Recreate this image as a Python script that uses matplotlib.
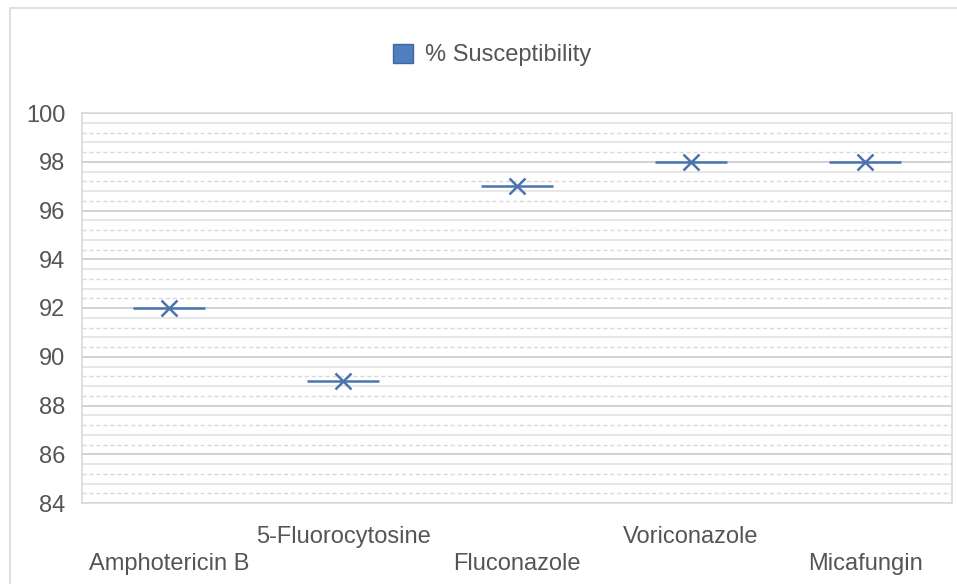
import matplotlib
matplotlib.use("Agg")
import matplotlib.pyplot as plt
import matplotlib.transforms as mtransforms
from matplotlib.patches import Patch, Rectangle

# data
drugs = ["Amphotericin B", "5-Fluorocytosine", "Fluconazole", "Voriconazole", "Micafungin"]
susceptibility = [92, 89, 97, 98, 98]
y_ticks = [84, 86, 88, 90, 92, 94, 96, 98, 100]
series_name = "% Susceptibility"

plt.rcParams['font.family'] = ['Liberation Sans', 'DejaVu Sans']
text_gray = '#555555'
blue = '#4a74ad'

fig = plt.figure(figsize=(9.57, 5.84), dpi=100)
ax = fig.add_axes([82 / 957, 1 - 503 / 584, 870 / 957, 390 / 584])

# outer chart border
fig.patches.append(Rectangle((10 / 957, -0.1), 1.2, 1 - 8 / 584 + 0.1,
                             transform=fig.transFigure, fill=False,
                             edgecolor='#d9d9d9', lw=1.2))

# gridlines: major every 2, finer ones every 0.4 (solid / dashed alternating)
lo, hi = y_ticks[0], y_ticks[-1]
n = int(round((hi - lo) / 0.4))
for i in range(n + 1):
    y = lo + 0.4 * i
    j = (n - i) % 5  # position below the major line above
    if j == 0:
        ax.axhline(y, color='#cfcfcf', lw=1.3, zorder=1)
    elif j % 2 == 1:
        ax.axhline(y, color='#e3e3e3', lw=1.2, zorder=1)
    else:
        ax.axhline(y, color='#d9d9d9', lw=1.0, ls=(0, (3, 2)), zorder=1)

x = list(range(len(drugs)))
ax.plot(x, susceptibility, ls='none', marker='_', markersize=52,
        mew=1.8, color=blue, zorder=3)
ax.plot(x, susceptibility, ls='none', marker='x', markersize=12,
        mew=1.8, color=blue, zorder=3)

ax.set_xlim(-0.5, len(drugs) - 0.5)
ax.set_ylim(lo, hi)
ax.set_yticks(y_ticks)
ax.set_yticklabels([str(t) for t in y_ticks], fontsize=17, color=text_gray)
ax.tick_params(axis='y', length=0, pad=12)
ax.set_xticks([])
for s in ax.spines.values():
    s.set_color('#d9d9d9')
    s.set_linewidth(1.2)

# staggered category labels
trans = mtransforms.blended_transform_factory(ax.transData, ax.transAxes)
for i, name in enumerate(drugs):
    yoff = -61 / 390 if i % 2 == 0 else -34 / 390
    ax.text(i, yoff, name, transform=trans, ha='center', va='center',
            fontsize=17, color=text_gray)

fig.legend(handles=[Patch(facecolor='#4f7fbf', edgecolor='#41689c', label=series_name)],
           loc='center', bbox_to_anchor=(0.514, 1 - 55 / 584), frameon=False,
           fontsize=17, handlelength=0.85, handleheight=0.85, handletextpad=0.5,
           labelcolor=text_gray)

fig.savefig("out.png", dpi=100)
